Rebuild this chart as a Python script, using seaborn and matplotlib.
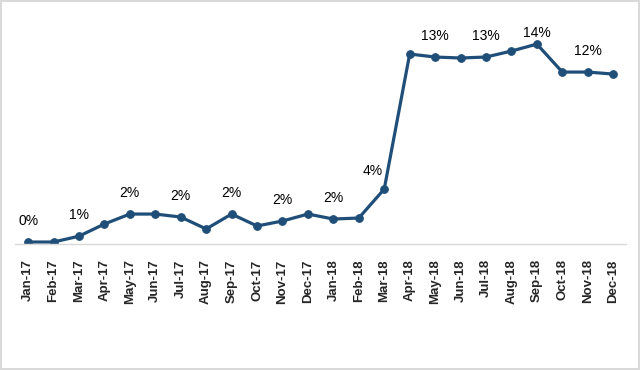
import matplotlib
matplotlib.use("Agg")
import matplotlib.pyplot as plt
import numpy as np
import pandas as pd
import seaborn as sns

# ----- data -----
months = ["Jan-17", "Feb-17", "Mar-17", "Apr-17", "May-17", "Jun-17",
          "Jul-17", "Aug-17", "Sep-17", "Oct-17", "Nov-17", "Dec-17",
          "Jan-18", "Feb-18", "Mar-18", "Apr-18", "May-18", "Jun-18",
          "Jul-18", "Aug-18", "Sep-18", "Oct-18", "Nov-18", "Dec-18"]
share = [0.14, 0.14, 0.55, 1.41, 2.11, 2.11,
         1.90, 1.06, 2.11, 1.27, 1.62, 2.11,
         1.76, 1.83, 3.87, 13.38, 13.17, 13.10,
         13.17, 13.59, 14.08, 12.11, 12.11, 11.97]
labelled = months[::2]  # every other month gets a data label

df = pd.DataFrame({"month": months, "share": share})

sns.set_theme(style="white")
plt.rcParams["font.family"] = ["Liberation Sans", "DejaVu Sans"]

line_col = "#1F4E79"
fig = plt.figure(figsize=(6.4, 3.7), dpi=100)
ax = fig.add_axes([0.024, 0.3405, 0.954, 0.614])

sns.lineplot(data=df, x="month", y="share", ax=ax, color=line_col,
             linewidth=2.3, marker="o", markersize=5.5,
             markeredgecolor=line_col, sort=False)

# data labels sit above the point, but never above the plot area top;
# where the line shoots up right after, nudge the label to the left
label_top = 14.85
for i, (m, v) in enumerate(zip(months, share)):
    if m not in labelled:
        continue
    y = min(v + 1.5, label_top)
    dx = 0
    if i + 1 < len(share) and share[i + 1] - v > 5:
        dx = -0.45
        y = v + 1.25
    ax.text(i + dx, y, f"{v:.0f}%", ha="center", va="center",
            fontsize=10, color="#000000")

ax.set_xlim(-0.5, len(months) - 0.5)
ax.set_ylim(0, 16)
ax.set_xlabel("")
ax.set_ylabel("")
ax.set_yticks([])
ax.set_xticks(range(len(months)))
ax.set_xticklabels(months, rotation=90, fontsize=9.5, fontweight="bold")
ax.tick_params(axis="x", length=0, pad=11)
for s in ["top", "right", "left"]:
    ax.spines[s].set_visible(False)
ax.spines["bottom"].set_color("#D9D9D9")
ax.spines["bottom"].set_linewidth(1)

fig.patch.set_edgecolor("#D9D9D9")
fig.patch.set_linewidth(1.5)
fig.savefig("out.png", dpi=100, edgecolor=fig.get_edgecolor())
